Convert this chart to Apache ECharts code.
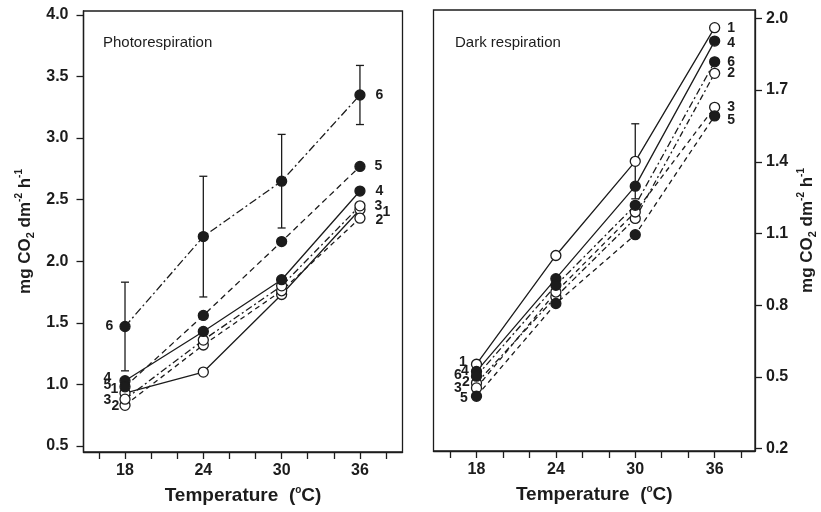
<!DOCTYPE html>
<html>
<head>
<meta charset="utf-8">
<script src="https://cdn.jsdelivr.net/npm/echarts@6/dist/echarts.min.js"></script>
<style>html,body{margin:0;padding:0;background:#fff;}#c{width:821px;height:512px;}</style>
</head>
<body>
<div id="c"></div>
<script>
// ---- data ----
const temps = [18, 24, 30, 36];
const seriesNames = ['1', '2', '3', '4', '5', '6'];
// Photorespiration (left panel)
const photo1 = [0.93, 1.10, 1.73, 2.42];
const photo2 = [0.83, 1.32, 1.76, 2.35];
const photo3 = [0.88, 1.36, 1.80, 2.45];
const photo4 = [1.03, 1.43, 1.85, 2.57];
const photo5 = [0.98, 1.56, 2.16, 2.77];
const photo6 = [1.47, 2.20, 2.65, 3.35];
const photo6Err = [0.36, 0.49, 0.38, 0.24];
// Dark respiration (right panel)
const dark1 = [0.553, 1.008, 1.402, 1.961];
const dark2 = [0.474, 0.835, 1.163, 1.770];
const dark3 = [0.454, 0.855, 1.190, 1.628];
const dark4 = [0.523, 0.911, 1.298, 1.905];
const dark5 = [0.419, 0.807, 1.095, 1.592];
const dark6 = [0.503, 0.883, 1.218, 1.818];
const dark1Err = [null, null, 0.157, null];
// ticks
const xTicks = [16, 18, 20, 22, 24, 26, 28, 30, 32, 34, 36, 38];
const xLabels = [18, 24, 30, 36];
const leftYTicks = [0.5, 1.0, 1.5, 2.0, 2.5, 3.0, 3.5, 4.0];
const rightYTicks = [0.2, 0.5, 0.8, 1.1, 1.4, 1.7, 2.0];

// ---- styles ----
const FONT = '"Liberation Sans", Arial, Helvetica, sans-serif';
const INK = '#1c1c1c';
const photoData = [photo1, photo2, photo3, photo4, photo5, photo6];
const darkData = [dark1, dark2, dark3, dark4, dark5, dark6];
const filled = [false, false, false, true, true, true];
const photoDash = ['solid', [5, 4], [7, 3, 2, 3], 'solid', [6, 4], [8, 3, 2, 3]];
const darkDash = ['solid', [6, 3, 2, 3], [5, 4], 'solid', [5, 4], [7, 3, 2, 3]];
// label offsets [first point (left side), last point (right side)]
const photoLabelOff = [
  [[1, -4], [15, 3]],
  [[2, 1], [8, 2]],
  [[-6, 1], [7, 0]],
  [[-6, -3], [8, 0]],
  [[-6, -2], [7, 0]],
  [[-4, 0], [8, 0]]
];
const darkLabelOff = [
  [[-2, -2], [5, 0]],
  [[1, -1], [5, 0]],
  [[-7, 0], [5, 0]],
  [[0, 0], [5, 2]],
  [[-1, 2], [5, 4]],
  [[-7, -1], [5, 0]]
];

const labelStyle = { fontFamily: FONT, fontSize: 14, fontWeight: 'bold', color: INK };
const tickLabelStyle = { fontFamily: FONT, fontSize: 16, fontWeight: 'bold', color: INK };
const nameRich = {
  sub: { fontFamily: FONT, fontSize: 11, fontWeight: 'bold', color: INK, verticalAlign: 'bottom' },
  sup: { fontFamily: FONT, fontSize: 10, fontWeight: 'bold', color: INK, verticalAlign: 'top' }
};
const nameStyle = { fontFamily: FONT, fontSize: 17, fontWeight: 'bold', color: INK, lineHeight: 22, rich: nameRich };

function lineSeries(name, values, isFilled, dash, offs, axisIdx) {
  return {
    type: 'line', name: name, xAxisIndex: axisIdx, yAxisIndex: axisIdx,
    symbol: 'circle', symbolSize: 10, z: 3,
    lineStyle: { color: INK, width: 1.3, type: dash },
    itemStyle: { color: isFilled ? INK : '#fff', borderColor: INK, borderWidth: 1.3 },
    emphasis: { disabled: true },
    data: values.map((v, i) => {
      const item = { value: [temps[i], v] };
      if (i === 0 || i === values.length - 1) {
        const o = i === 0 ? offs[0] : offs[1];
        item.label = Object.assign({
          show: true, formatter: name,
          position: i === 0 ? 'left' : 'right', distance: 2, offset: o
        }, labelStyle);
      }
      return item;
    })
  };
}

function errSeries(values, errs, axisIdx) {
  const d = [];
  values.forEach((v, i) => { if (errs[i] != null) d.push([temps[i], v - errs[i], v + errs[i]]); });
  return {
    type: 'custom', xAxisIndex: axisIdx, yAxisIndex: axisIdx, z: 2,
    coordinateSystem: 'cartesian2d', silent: true,
    renderItem: function (params, api) {
      const x = api.value(0);
      const lo = api.coord([x, api.value(1)]);
      const hi = api.coord([x, api.value(2)]);
      const w = 4;
      const st = { stroke: INK, lineWidth: 1.3 };
      return {
        type: 'group', children: [
          { type: 'line', shape: { x1: lo[0], y1: lo[1], x2: hi[0], y2: hi[1] }, style: st },
          { type: 'line', shape: { x1: lo[0] - w, y1: lo[1], x2: lo[0] + w, y2: lo[1] }, style: st },
          { type: 'line', shape: { x1: hi[0] - w, y1: hi[1], x2: hi[0] + w, y2: hi[1] }, style: st }
        ]
      };
    },
    encode: { x: 0, y: [1, 2] },
    data: d
  };
}

function xAxis(idx, min, max) {
  return {
    type: 'value', gridIndex: idx, min: min, max: max,
    name: 'Temperature  ({sup|o}C)', nameLocation: 'middle', nameGap: 33,
    nameTextStyle: Object.assign({}, nameStyle, { fontSize: 19 }),
    axisLine: { show: true, onZero: false, lineStyle: { color: INK, width: 1.3 } },
    axisTick: { show: true, length: 7, customValues: xTicks, lineStyle: { color: INK, width: 1.3 } },
    axisLabel: Object.assign({ customValues: xLabels, margin: 11 }, tickLabelStyle),
    splitLine: { show: false }
  };
}

const series = [];
series.push(errSeries(photo6, photo6Err, 0));
series.push(errSeries(dark1, dark1Err, 1));
photoData.forEach((vals, i) => series.push(lineSeries(seriesNames[i], vals, filled[i], photoDash[i], photoLabelOff[i], 0)));
darkData.forEach((vals, i) => series.push(lineSeries(seriesNames[i], vals, filled[i], darkDash[i], darkLabelOff[i], 1)));

const option = {
  animation: false,
  backgroundColor: '#fff',
  title: [
    { text: 'Photorespiration', left: 103, top: 35, padding: 0,
      textStyle: { fontFamily: FONT, fontSize: 15, fontWeight: 'normal', color: INK } },
    { text: 'Dark respiration', left: 455, top: 35, padding: 0,
      textStyle: { fontFamily: FONT, fontSize: 15, fontWeight: 'normal', color: INK } }
  ],
  grid: [
    { left: 83.5, top: 11, width: 319, height: 442, show: true, borderColor: INK, borderWidth: 1.3, containLabel: false },
    { left: 433.5, top: 10, width: 321.5, height: 441, show: true, borderColor: INK, borderWidth: 1.3, containLabel: false }
  ],
  xAxis: [xAxis(0, 14.82, 39.26), xAxis(1, 14.75, 39.05)],
  yAxis: [
    {
      type: 'value', gridIndex: 0, min: 0.451, max: 4.032, position: 'left',
      name: 'mg CO{sub|2} dm{sup|-2} h{sup|-1}', nameLocation: 'middle', nameGap: 47, nameRotate: 90,
      nameTextStyle: nameStyle,
      axisLine: { show: true, onZero: false, lineStyle: { color: INK, width: 1.3 } },
      axisTick: { show: true, length: 7, customValues: leftYTicks, lineStyle: { color: INK, width: 1.3 } },
      axisLabel: Object.assign({ customValues: leftYTicks, margin: 15, formatter: v => v.toFixed(1) }, tickLabelStyle),
      splitLine: { show: false }
    },
    {
      type: 'value', gridIndex: 1, min: 0.19, max: 2.035, position: 'right',
      name: 'mg CO{sub|2} dm{sup|-2} h{sup|-1}', nameLocation: 'middle', nameGap: 41, nameRotate: 90,
      nameTextStyle: nameStyle,
      axisLine: { show: true, onZero: false, lineStyle: { color: INK, width: 1.3 } },
      axisTick: { show: true, length: 7, customValues: rightYTicks, lineStyle: { color: INK, width: 1.3 } },
      axisLabel: Object.assign({ customValues: rightYTicks, margin: 11, formatter: v => v.toFixed(1) }, tickLabelStyle),
      splitLine: { show: false }
    }
  ],
  series: series
};

const chart = echarts.init(document.getElementById('c'), null, { renderer: 'canvas' });
chart.setOption(option);
</script>
</body>
</html>
